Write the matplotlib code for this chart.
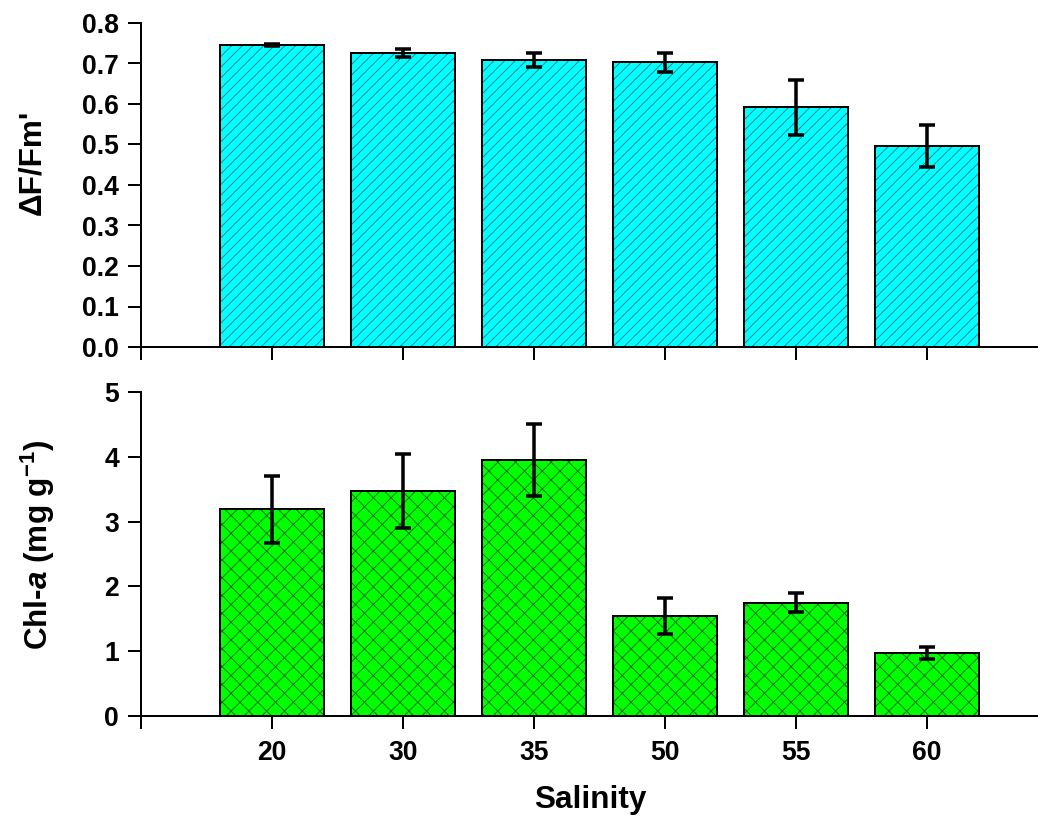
import matplotlib
matplotlib.use('Agg')
import matplotlib.pyplot as plt

# data
salinity = ['20', '30', '35', '50', '55', '60']
fvfm = [0.746, 0.725, 0.709, 0.703, 0.592, 0.496]
fvfm_err = [0.003, 0.010, 0.017, 0.023, 0.068, 0.052]
chla = [3.19, 3.47, 3.95, 1.54, 1.75, 0.97]
chla_err = [0.52, 0.57, 0.56, 0.28, 0.145, 0.09]

DPI = 160
P = 72 / DPI  # pixel -> point

plt.rcParams['font.family'] = ['Liberation Sans', 'DejaVu Sans']
plt.rcParams['font.weight'] = 'bold'
plt.rcParams['mathtext.fontset'] = 'custom'
plt.rcParams['mathtext.rm'] = 'Liberation Sans:bold'
plt.rcParams['mathtext.it'] = 'Liberation Sans:italic:bold'
plt.rcParams['mathtext.bf'] = 'Liberation Sans:bold'
plt.rcParams['mathtext.default'] = 'rm'
plt.rcParams['hatch.linewidth'] = 0.9 * P

W, H = 1038, 822
fig = plt.figure(figsize=(W / DPI, H / DPI), dpi=DPI)
left = 141 / W
ax1 = fig.add_axes([left, 1 - 347 / H, 1 - left, 324 / H])
ax2 = fig.add_axes([left, 1 - 716 / H, 1 - left, 324 / H])

x = list(range(1, len(salinity) + 1))


def draw(ax, vals, errs, color, hatch, hcolor):
    ax.bar(x, vals, width=0.8, color=color, edgecolor=hcolor, linewidth=0,
           hatch=hatch, zorder=2)
    ax.bar(x, vals, width=0.8, fill=False, edgecolor='black',
           linewidth=2 * P, zorder=3)
    # capsize is half the cap length
    ax.errorbar(x, vals, yerr=errs, fmt='none', ecolor='black',
                elinewidth=3.5 * P, capsize=8 * P, capthick=3.5 * P, zorder=4)
    ax.set_xlim(0, (W - 141) / 131)
    ax.spines['top'].set_visible(False)
    ax.spines['right'].set_visible(False)
    ax.spines['left'].set_linewidth(2 * P)
    ax.spines['bottom'].set_linewidth(2 * P)
    ax.tick_params(direction='out', length=13 * P, width=2 * P,
                   labelsize=26.5 * P, pad=9 * P)
    ax.set_xticks([0] + x)


draw(ax1, fvfm, fvfm_err, '#00FFFF', '/////', '#1a7f8a')
ax1.set_ylim(0, 0.8)
ax1.set_yticks([i / 10 for i in range(9)])
ax1.set_yticklabels([f'{i / 10:.1f}' for i in range(9)])
ax1.set_xticklabels([''] * 7)

draw(ax2, chla, chla_err, '#00FF00', 'xxx', '#0b6b0b')
ax2.set_ylim(0, 5)
ax2.set_yticks(range(6))
ax2.set_xticklabels([''] + salinity)
ax2.tick_params(axis='x', pad=11 * P)

lab = 31.5 * P
fig.text(32 / W, 1 - 162 / H, "ΔF/Fm'", rotation=90, ha='center', va='center',
         fontsize=lab, fontweight='bold')
fig.text(38 / W, 1 - 545 / H, r'Chl-$\mathit{a}$ (mg g$^{-1}$)', rotation=90,
         ha='center', va='center', fontsize=lab, fontweight='bold')
fig.text(590 / W, 1 - 800 / H, 'Salinity', ha='center', va='center',
         fontsize=lab, fontweight='bold')

fig.savefig('out.png', dpi=DPI)
